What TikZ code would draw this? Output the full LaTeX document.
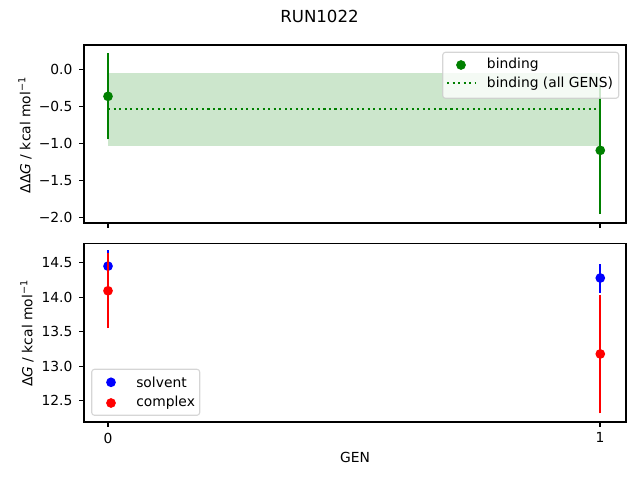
\documentclass[tikz,border=0pt]{standalone}
\usepackage{fontspec}
\setmainfont{DejaVu Sans}
\usetikzlibrary{positioning}
\definecolor{bindingColor}{HTML}{008000}
\definecolor{bandColor}{HTML}{CCE6CC}
\definecolor{solventColor}{HTML}{0000FF}
\definecolor{complexColor}{HTML}{FF0000}
\definecolor{legendEdge}{HTML}{CCCCCC}
\tikzstyle{pixels} = [x=0.01in, y=-0.01in]
\tikzstyle{axisFrame} = [draw=black, line width=0.8bp]
\tikzstyle{tickLine} = [black, line width=0.8bp]
\tikzstyle{tickText} = [inner sep=0pt]
\tikzstyle{errorBarStyle} = [line width=1.5bp]
\tikzstyle{dottedLine} = [line width=1.5bp, dash pattern=on 1.5bp off 2.475bp]
\tikzstyle{legendFrame} = [draw=legendEdge, fill=white, opacity=0.8, rounded corners=2bp, line width=0.8bp]
\tikzstyle{legendText} = [anchor=west, inner sep=0pt]
\newcommand{\markerRadius}{3.5bp}
\newcommand{\yTick}[3]{\draw [tickLine] (84,#1) -- +(-4.9,0); \node [tickText, anchor=east] (#3) at (72.7,#1) {#2};}
\newcommand{\xTick}[2]{\draw [tickLine] (#1,#2) -- +(0,4.9);}
\newcommand{\errorBar}[4]{\draw [errorBarStyle, #1] (#2,#3-#4) -- (#2,#3+#4);}
\newcommand{\dataMarker}[3]{\fill [#1] (#2,#3) circle [radius=\markerRadius];}

\begin{document}
\begin{tikzpicture}[pixels]
\useasboundingbox (0,0) rectangle (640,480);
\node [font=\large] (title) at (319.5,16) {RUN1022};
% binding free energy
\begin{scope}[shift={(108,69.3)}, x=4.92in, y=0.74in]
  \fill [bandColor] (0,-0.05) rectangle (1,-1.03);
  \draw [bindingColor, dottedLine] (0,-0.537) -- (1,-0.537);
  \errorBar{bindingColor}{0}{-0.365}{0.58}\dataMarker{bindingColor}{0}{-0.365}
  \errorBar{bindingColor}{1}{-1.095}{0.86}\dataMarker{bindingColor}{1}{-1.095}
\end{scope}
\draw [axisFrame] (84,45) rectangle (626,223);
\foreach \v/\lab [count=\i] in {0.0/0.0,-0.5/−0.5,-1.0/−1.0,-1.5/−1.5,-2.0/−2.0} {
  \pgfmathsetmacro{\tickY}{69.3 - 74 * \v}
  \yTick{\tickY}{\lab}{topTick\i}
}
\foreach \px in {108,600} {
  \xTick{\px}{223}
}
\node [rotate=90] (topLabel) at (25,135) {ΔΔ\textit{G} / kcal mol\textsuperscript{−1}};
\draw [legendFrame] (442.7,52.3) rectangle (618.7,98.3);
\fill [bindingColor] (461,65) circle [radius=\markerRadius];
\node [legendText] (bindingEntry) at (486.7,65) {binding};
\draw [bindingColor, dottedLine] (447,83.3) -- (475,83.3);
\node [legendText] (allGensEntry) at (486.7,83.3) {binding (all GENS)};
% solvent and complex legs
\begin{scope}[shift={(108,1263.2)}, x=4.92in, y=0.69in]
  \dataMarker{solventColor}{0}{14.442}\dataMarker{solventColor}{1}{14.27}
  \dataMarker{complexColor}{0}{14.085}\dataMarker{complexColor}{1}{13.17}
  \errorBar{solventColor}{0}{14.442}{0.228}\errorBar{solventColor}{1}{14.27}{0.21}
  \errorBar{complexColor}{0}{14.085}{0.54}\errorBar{complexColor}{1}{13.17}{0.86}
\end{scope}
\draw [axisFrame] (84,243.3) rectangle (626,422);
\foreach \v/\lab [count=\i] in {14.5/14.5,14.0/14.0,13.5/13.5,13.0/13.0,12.5/12.5} {
  \pgfmathsetmacro{\tickY}{262.7 + 69 * (14.5 - \v)}
  \yTick{\tickY}{\lab}{bottomTick\i}
}
\foreach \gen/\px in {0/108,1/600} {
  \xTick{\px}{422}
  \node [tickText, anchor=north] (genTick\gen) at (\px,432.5) {\gen};
}
\node [rotate=90] (bottomLabel) at (27,333.3) {Δ\textit{G} / kcal mol\textsuperscript{−1}};
\node (genLabel) at (355,457) {GEN};
\draw [legendFrame] (91.7,369.3) rectangle (199.7,415.3);
\fill [solventColor] (111,382.3) circle [radius=\markerRadius];
\node [legendText] (solventEntry) at (136,382.3) {solvent};
\fill [complexColor] (111,403) circle [radius=\markerRadius];
\node [legendText] (complexEntry) at (136,403) {complex};
\end{tikzpicture}
\end{document}
